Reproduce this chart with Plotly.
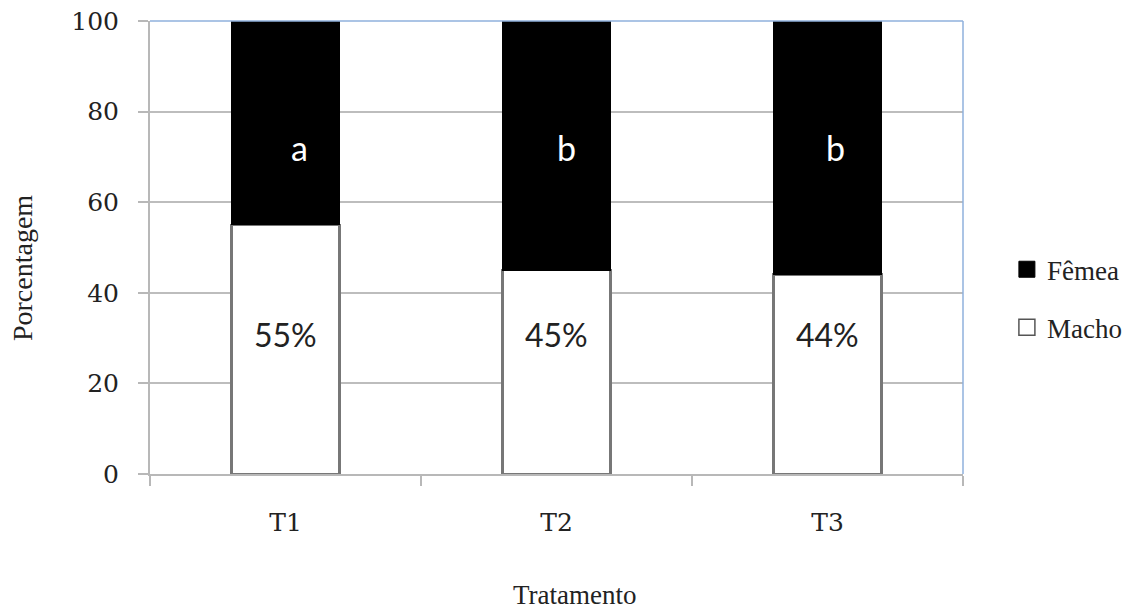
import plotly.graph_objects as go

categories = ["T1", "T2", "T3"]
macho = [55, 45, 44]
femea = [45, 55, 56]
letters = ["a", "b", "b"]
pct_labels = ["55%", "45%", "44%"]
y_ticks = [0, 20, 40, 60, 80, 100]

serif = "Liberation Serif, Times New Roman, serif"
tick_font = "DejaVu Serif"
sans = "Lato"
txt = "#222222"
bar_edge = "#777777"

fig = go.Figure()
fig.add_trace(go.Bar(
    x=categories, y=macho, name="Macho", showlegend=False,
    marker=dict(color="white", line=dict(color=bar_edge, width=2.5)),
    width=0.4,
))
fig.add_trace(go.Bar(
    x=categories, y=femea, name="Fêmea", showlegend=False,
    marker=dict(color="black", line=dict(color="black", width=1)),
    width=0.4,
))
# legend entries (square swatches)
fig.add_trace(go.Scatter(
    x=[None], y=[None], mode="markers", name="Fêmea", legendgroup="f", legendrank=1,
    marker=dict(symbol="square", size=18, color="black", line=dict(color="black", width=1)),
))
fig.add_trace(go.Scatter(
    x=[None], y=[None], mode="markers", name="Macho", legendgroup="m", legendrank=2,
    marker=dict(symbol="square", size=18, color="white", line=dict(color="#555555", width=1.5)),
))

annotations = []
letter_shift = [14, 10, 8]
for i, c in enumerate(categories):
    annotations.append(dict(x=c, y=30.8, text=pct_labels[i], showarrow=False,
                            font=dict(family=sans, size=32, color=txt)))
    annotations.append(dict(x=c, y=72, text=letters[i], showarrow=False,
                            font=dict(family=sans, size=34, color="white"),
                            xshift=letter_shift[i]))

# axis titles
annotations.append(dict(xref="paper", yref="paper", x=0.523, y=-0.268,
                        text="Tratamento", showarrow=False,
                        xanchor="center", yanchor="middle",
                        font=dict(family=serif, size=27, color=txt)))
annotations.append(dict(xref="paper", yref="paper", x=-0.156, y=0.455,
                        text="Porcentagem", showarrow=False, textangle=-90,
                        xanchor="center", yanchor="middle",
                        font=dict(family=serif, size=28, color=txt)))

fig.update_layout(
    width=1141, height=610,
    margin=dict(l=142, r=186, t=13, b=144, autoexpand=False),
    barmode="stack",
    plot_bgcolor="white", paper_bgcolor="white",
    showlegend=True,
    legend=dict(x=1.054, y=0.387, xanchor="left", yanchor="middle",
                traceorder="grouped",
                font=dict(family=serif, size=27, color=txt),
                itemsizing="trace", tracegroupgap=20,
                bgcolor="rgba(0,0,0,0)"),
    annotations=annotations,
    xaxis=dict(
        showline=True, linecolor="#b8b8b8", linewidth=2,
        ticks="outside", tickson="boundaries", ticklen=10, tickcolor="#b8b8b8", tickwidth=2,
        tickfont=dict(family=tick_font, size=25, color=txt),
        ticklabelstandoff=25, automargin=False,
        showgrid=False,
    ),
    yaxis=dict(
        range=[0, 100], tickvals=y_ticks,
        showline=True, linecolor="#b8b8b8", linewidth=2,
        ticks="outside", ticklen=10, tickcolor="#b8b8b8", tickwidth=2,
        tickfont=dict(family=tick_font, size=25, color=txt),
        ticklabelstandoff=14, ticklabeloverflow="allow", automargin=False,
        showgrid=True, gridcolor="#bdbdbd", gridwidth=2,
        zeroline=False,
    ),
    shapes=[
        dict(type="line", xref="paper", yref="paper", x0=0, x1=1, y0=1, y1=1,
             line=dict(color="#8fb0dc", width=1.5)),
        dict(type="line", xref="paper", yref="paper", x0=1, x1=1, y0=0, y1=1,
             line=dict(color="#8fb0dc", width=1.5)),
    ],
)

fig.write_html("out.html")
